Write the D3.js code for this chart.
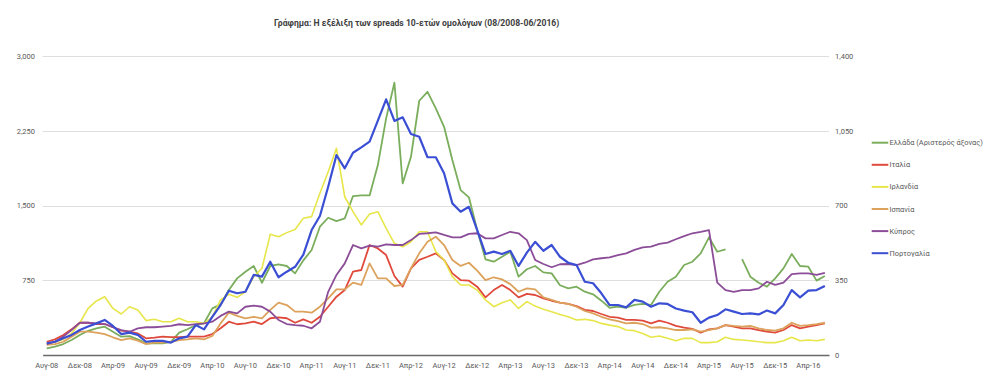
<!DOCTYPE html>
<html>
<head>
<meta charset="utf-8">
<script src="https://cdnjs.cloudflare.com/ajax/libs/d3/7.8.5/d3.min.js"></script>
<style>
    body { margin: 0; background: #fff; }
    text { font-family: Roboto, "Liberation Sans", sans-serif; }
</style>
</head>
<body>
<svg id="chart"></svg>
<script>
// month categories Aug-08 .. Jun-16
const monthNames = ["Ιαν", "Φεβ", "Μαρ", "Απρ", "Μαϊ", "Ιουν", "Ιουλ", "Αυγ", "Σεπ", "Οκτ", "Νοε", "Δεκ"];
const months = d3.timeMonths(new Date(2008, 7, 1), new Date(2016, 6, 1));
const formatMonth = d => monthNames[d.getMonth()] + "-" + d3.timeFormat("%y")(d);

const leftTicks = [750, 1500, 2250, 3000];
const rightTicks = [0, 350, 700, 1050, 1400];

// spreads in basis points (Greece on the left axis, the rest on the right one)
const greece = [67, 83, 110, 150, 200, 243, 267, 284, 234, 184, 190, 157, 117, 117, 117, 133, 224, 258, 301, 318,
    468, 508, 652, 769, 836, 893, 725, 893, 910, 893, 819, 950,
    1053, 1287, 1377, 1344, 1371, 1595, 1601, 1601, 1906, 2374, 2732, 1722, 1989, 2551, 2641, 2474, 2290, 1956, 1655, 1582,
    1254, 960, 936, 986, 1036, 786, 860, 893, 829, 819, 700,
    669, 685, 635, 609, 545, 474, 485, 474, 502, 512, 502, 635, 735, 786, 903, 936, 1020, 1181, 1036, 1060,
    null,
    963, 786, 725, 685, 769, 869, 1013, 893, 886, 746, 792];
const italy = [62, 73, 94, 120, 151, 151, 145, 145, 130, 114, 109, 101, 78, 81, 86, 84, 84, 86, 86, 86,
    98, 125, 156, 144, 148, 156, 145, 172, 176, 172, 151,
    167, 151, 179, 226, 273, 304, 390, 398, 515, 499, 468, 370, 320, 406, 445, 460, 476, 445, 382, 351,
    348, 320, 270, 304, 328, 304, 270, 286, 281, 265, 254, 245,
    239, 229, 211, 206, 192, 179, 175, 164, 164, 161, 148, 161, 151, 136, 128, 122, 105, 120, 125, 140,
    133, 125, 125, 117, 109, 105, 117, 140, 125, 133, 140, 148];
const ireland = [51, 62, 73, 101, 151, 218, 253, 273, 218, 192, 226, 211, 161, 167, 156, 156, 172, 156, 156, 148,
    179, 258, 284, 270, 296, 367, 406, 565, 554, 573, 588,
    640, 648, 757, 858, 968, 741, 671, 609, 660, 671, 593, 523, 507, 530, 577, 577, 484, 445, 367, 328,
    328, 304, 258, 226, 245, 258, 218, 250, 229, 214, 203, 190,
    179, 164, 167, 161, 148, 140, 133, 117, 114, 101, 83, 89, 78, 67, 78, 78, 58, 58, 62, 83,
    73, 70, 67, 62, 58, 58, 67, 83, 67, 70, 67, 73];
const spain = [47, 51, 62, 86, 109, 109, 105, 98, 83, 70, 78, 67, 51, 58, 58, 62, 70, 73, 78, 73,
    89, 148, 198, 183, 172, 179, 172, 211, 245, 234, 203,
    203, 198, 226, 265, 307, 307, 339, 328, 429, 359, 359, 323, 328, 406, 476, 530, 554, 515, 445, 417,
    432, 395, 351, 364, 354, 332, 296, 312, 307, 270, 258, 245,
    239, 226, 206, 195, 179, 167, 159, 148, 151, 145, 128, 130, 125, 117, 117, 120, 109, 117, 125, 140,
    136, 133, 136, 125, 117, 114, 125, 151, 136, 140, 145, 151];
const cyprus = [51, 62, 86, 117, 151, 151, 148, 145, 130, 117, 109, 125, 130, 130, 133, 136, 144, 140, 145, 148,
    156, 183, 203, 195, 226, 231, 226, 203, 164, 145, 140,
    137, 125, 156, 296, 375, 429, 515, 499, 512, 507, 518, 515, 515, 538, 567, 570, 574, 562, 551, 551,
    567, 570, 546, 546, 562, 577, 570, 538, 445, 426, 411, 425,
    426, 421, 432, 448, 453, 457, 468, 476, 492, 504, 507, 520, 526, 542, 557, 570, 577, 585, 339, 304,
    296, 304, 304, 312, 343, 328, 339, 379, 382, 382, 375, 385];
const portugal = [55, 62, 78, 94, 117, 133, 148, 164, 136, 98, 105, 94, 62, 66, 66, 58, 78, 86, 140, 120,
    179, 234, 301, 289, 296, 375, 367, 437, 364, 390, 413,
    470, 585, 651, 788, 936, 874, 947, 972, 999, 1097, 1197, 1096, 1113, 1035, 1022, 926, 926, 851, 710, 671,
    694, 585, 473, 484, 473, 488, 417, 479, 530, 488, 515, 460,
    432, 421, 343, 336, 289, 234, 234, 223, 258, 250, 226, 242, 239, 218, 208, 200, 151, 175, 187, 214,
    203, 192, 195, 190, 208, 195, 234, 304, 270, 301, 304, 323];

const seriesNames = ["Ελλάδα (Αριστερός άξονας)", "Ιταλία", "Ιρλανδία", "Ισπανία", "Κύπρος", "Πορτογαλία"];

const width = 986, height = 384;
const svg = d3.select("#chart").attr("width", width).attr("height", height);
svg.append("rect").attr("width", width).attr("height", height).attr("fill", "#fff");

const x = d3.scaleBand().domain(d3.range(months.length)).range([42.6, 829]);
const cx = i => x(i) + x.bandwidth() / 2;
const yLeft = d3.scaleLinear().domain([0, 3000]).range([355, 56]);
const yRight = d3.scaleLinear().domain([0, 1400]).range([355, 56]);

const series = [
    { name: seriesNames[0], values: greece, y: yLeft, color: "#7aae5c", w: 1.8 },
    { name: seriesNames[1], values: italy, y: yRight, color: "#df4a3c", w: 1.8 },
    { name: seriesNames[2], values: ireland, y: yRight, color: "#e7e64a", w: 1.6 },
    { name: seriesNames[3], values: spain, y: yRight, color: "#dca25c", w: 1.8 },
    { name: seriesNames[4], values: cyprus, y: yRight, color: "#8c4d98", w: 1.8 },
    { name: seriesNames[5], values: portugal, y: yRight, color: "#3b4fd4", w: 2.2 }
];

// title
svg.append("text")
    .attr("x", 416.7)
    .attr("y", 26)
    .attr("text-anchor", "middle")
    .style("font-size", "8.6px")
    .style("font-weight", "bold")
    .style("fill", "#404040")
    .text("Γράφημα: Η εξέλιξη των spreads 10-ετών ομολόγων (08/2008-06/2016)");

// gridlines
svg.append("g")
    .selectAll("line")
    .data(leftTicks)
    .enter().append("line")
    .attr("x1", 42.6)
    .attr("x2", 829)
    .attr("y1", d => Math.round(yLeft(d)) + 0.5)
    .attr("y2", d => Math.round(yLeft(d)) + 0.5)
    .style("stroke", "#dedede")
    .style("stroke-width", 1);

// y axes
const leftAxis = svg.append("g")
    .attr("transform", "translate(42.6,0)")
    .call(d3.axisLeft(yLeft).tickValues(leftTicks).tickFormat(d3.format(",")).tickSize(0).tickPadding(7.6));
const rightAxis = svg.append("g")
    .attr("transform", "translate(829,0)")
    .call(d3.axisRight(yRight).tickValues(rightTicks).tickFormat(d3.format(",")).tickSize(0).tickPadding(6));
[leftAxis, rightAxis].forEach(a => {
    a.select(".domain").remove();
    a.selectAll("text").style("font-size", "7.5px").style("fill", "#595959");
});

// lines
const lines = svg.append("g");
series.forEach(s => {
    const line = d3.line()
        .defined(d => d != null)
        .x((d, i) => cx(i))
        .y(d => s.y(d));
    lines.append("path")
        .datum(s.values)
        .attr("d", line)
        .style("fill", "none")
        .style("stroke", s.color)
        .style("stroke-width", s.w)
        .style("stroke-linejoin", "round");
});

// x axis
const xAxis = svg.append("g")
    .attr("transform", "translate(0,355)")
    .call(d3.axisBottom(x)
        .tickValues(d3.range(0, months.length, 4))
        .tickFormat(i => formatMonth(months[i]))
        .tickSize(0)
        .tickSizeOuter(0)
        .tickPadding(7.5));
xAxis.select(".domain").style("stroke", "#6a6a6a").style("stroke-width", 1.5);
xAxis.selectAll("text").style("font-size", "7.5px").style("fill", "#595959");

// legend
const legend = svg.append("g");
series.forEach((s, k) => {
    const ly = 142.7 + k * 22.1;
    legend.append("line")
        .attr("x1", 871.7).attr("x2", 888.3)
        .attr("y1", ly).attr("y2", ly)
        .style("stroke", s.color)
        .style("stroke-width", 2);
    legend.append("text")
        .attr("x", 889.5)
        .attr("y", ly)
        .attr("dy", "0.35em")
        .style("font-size", "7.4px")
        .style("fill", "#595959")
        .text(s.name);
});
</script>
</body>
</html>
